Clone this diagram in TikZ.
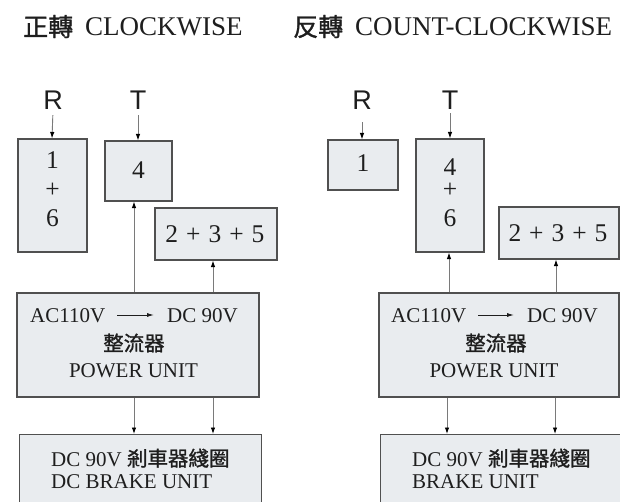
\documentclass[tikz,border=0pt]{standalone}
\usepackage{fontspec}
\setmainfont{Liberation Serif}
\newfontfamily\cjk[FakeBold=1.2]{Noto Sans CJK TC}
\newfontfamily\sfl{Liberation Sans}
\usetikzlibrary{arrows.meta}
\definecolor{boxfill}{HTML}{E9ECEF}
\definecolor{boxline}{HTML}{505050}
\definecolor{connline}{HTML}{7A7A7A}
\definecolor{txt}{HTML}{1E1E1E}
\tikzset{
  box/.style={draw=boxline, fill=boxfill, line width=1.1pt, inner sep=0pt},
  lbl/.style={inner sep=0pt, text=txt},
  title/.style={lbl, font=\fontsize{27}{30}\selectfont},
  letter/.style={lbl, font=\sfl\fontsize{27}{30}\selectfont},
  num/.style={lbl, font=\fontsize{25.5}{29}\selectfont, align=center},
  body/.style={lbl, font=\fontsize{21}{24}\selectfont},
  cjkbody/.style={lbl, font=\cjk\fontsize{20.5}{24}\selectfont},
  conn/.style={draw=connline, line width=0.9pt, -{Latex[length=6.5pt,width=4.5pt,color=black]}},
  inarrow/.style={draw=txt, line width=0.9pt, -{Latex[length=7pt,width=4pt]}},
}
\begin{document}
\begin{tikzpicture}[x=1pt,y=-1pt]
\useasboundingbox (0,0) rectangle (620,502);
\clip (0,0) rectangle (620,502);
\fill[white] (0,0) rectangle (620,502);

% titles
\node[title, anchor=base west] (t1) at (23,36) {{\cjk\fontsize{25}{30}\selectfont 正轉}\hspace{12pt}CLOCKWISE};
\node[title, anchor=base west] (t2) at (293,36) {{\cjk\fontsize{25}{30}\selectfont 反轉}\hspace{12pt}COUNT-CLOCKWISE};

% ---------- left: clockwise ----------
\node[letter, anchor=base] (rl) at (53,110) {R};
\node[letter, anchor=base] (tl) at (138,110) {T};

\node[box, minimum width=69pt, minimum height=113pt] (l16) at (52.5,195.5) {};
\node[num] (l16t) at (52.5,189) {1\\+\\6};
\node[box, minimum width=67pt, minimum height=60pt] (l4) at (138.5,171) {};
\node[num] (l4t) at (138.5,170) {4};
\node[box, minimum width=122pt, minimum height=52pt] (l235) at (216,234) {};
\node[num] (l235t) at (215,234) {2\hspace{8pt}+\hspace{8pt}3\hspace{8pt}+\hspace{8pt}5};

\node[box, minimum width=242pt, minimum height=104pt] (pul) at (138,345) {};
\node[body, anchor=base west] (acl) at (30,322) {AC110V};
\node[body, anchor=base east] (dcl) at (238,322) {DC 90V};
\node[cjkbody] (zll) at (134,343) {整流器};
\node[body] (pwl) at (133.5,371) {POWER UNIT};

\node[box, minimum width=242pt, minimum height=120pt, anchor=north west] (bul) at (19,434) {};
\node[body, anchor=base west] (bl1) at (51,466) {DC 90V {\cjk\fontsize{20.5}{24}\selectfont 剎車器綫圈}};
\node[body, anchor=base west] (bl2) at (51,488) {DC BRAKE UNIT};

\draw[conn, shorten <=5pt] (rl.south) -- (52,0 |- l16.north);
\draw[conn, shorten <=5pt] (tl.south) -- (138,0 |- l4.north);
\draw[conn] (134,0 |- pul.north) -- (134,0 |- l4.south);
\draw[conn] (213,0 |- pul.north) -- (213,0 |- l235.south);
\draw[conn] (134,0 |- pul.south) -- (134,0 |- bul.north);
\draw[conn] (213,0 |- pul.south) -- (213,0 |- bul.north);
\path (acl.east |- 0,315) ++(12pt,0) coordinate (al1);
\path (dcl.west |- 0,315) ++(-13pt,0) coordinate (al2);
\draw[inarrow] (al1) -- (al2);

% ---------- right: count-clockwise ----------
\node[letter, anchor=base] (rr) at (362,110) {R};
\node[letter, anchor=base] (tr) at (450,110) {T};

\node[box, minimum width=70pt, minimum height=50pt] (r1) at (363,165) {};
\node[num] (r1t) at (363,163) {1};
\node[box, minimum width=68pt, minimum height=113pt] (r46) at (450,195.5) {};
\node[num] (r46t) at (450,193) {4\\[-7pt]+\\6};
\node[box, minimum width=120pt, minimum height=52pt] (r235) at (559,233) {};
\node[num] (r235t) at (558,233) {2\hspace{8pt}+\hspace{8pt}3\hspace{8pt}+\hspace{8pt}5};

\node[box, minimum width=240pt, minimum height=104pt] (pur) at (499,345) {};
\node[body, anchor=base west] (acr) at (391,322) {AC110V};
\node[body, anchor=base east] (dcr) at (598,322) {DC 90V};
\node[cjkbody] (zlr) at (496,343) {整流器};
\node[body] (pwr) at (494,371) {POWER UNIT};

\node[box, minimum width=260pt, minimum height=120pt, anchor=north west] (bur) at (380,434) {};
\node[body, anchor=base west] (br1) at (412,466) {DC 90V {\cjk\fontsize{20.5}{24}\selectfont 剎車器綫圈}};
\node[body, anchor=base west] (br2) at (412,488) {BRAKE UNIT};

\draw[conn, shorten <=12pt] (rr.south) -- (362,0 |- r1.north);
\draw[conn, shorten <=3pt] (tr.south) -- (450,0 |- r46.north);
\draw[conn] (449,0 |- pur.north) -- (449,0 |- r46.south);
\draw[conn] (556,0 |- pur.north) -- (556,0 |- r235.south);
\draw[conn] (447,0 |- pur.south) -- (447,0 |- bur.north);
\draw[conn] (555,0 |- pur.south) -- (555,0 |- bur.north);
\path (acr.east |- 0,315) ++(12pt,0) coordinate (ar1);
\path (dcr.west |- 0,315) ++(-13pt,0) coordinate (ar2);
\draw[inarrow] (ar1) -- (ar2);
\end{tikzpicture}
\end{document}
